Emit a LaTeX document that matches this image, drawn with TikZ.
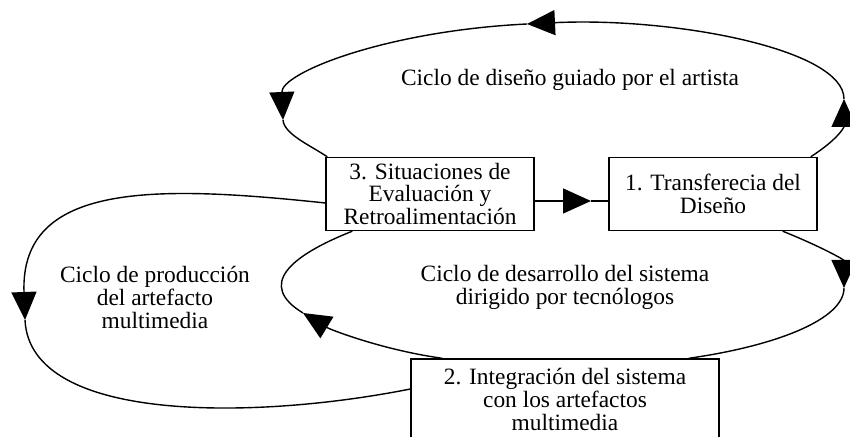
\documentclass[tikz,border=0pt]{standalone}
\usepackage{fontspec}
\setmainfont{Liberation Serif}
\usepackage{tikz}
\usetikzlibrary{arrows.meta,positioning}
\begin{document}
\begin{tikzpicture}[x=0.5pt,y=0.5pt,on grid,
           stage/.style={draw,line width=0.7pt,minimum width=104pt,minimum height=36.5pt,inner sep=0pt,align=center,font=\fontsize{11.7}{11.3}\selectfont},
           cyclelbl/.style={align=center,font=\fontsize{11.7}{11.3}\selectfont},
           loopline/.style={line width=0.7pt},
           flow/.style={loopline,-{Triangle[length=14pt,width=12.5pt]}}]
           \useasboundingbox (0,0) rectangle (850,437);
           \node[stage] (b3) at (430,243) {3. Situaciones de\\Evaluación y\\Retroalimentación};
           \node[stage] (b1) [right=141.5pt of b3] {1. Transferecia del\\Diseño};
           \node[stage, minimum width=154pt, minimum height=40.5pt] (b2) [below right=102.75pt and 67.5pt of b3] {2. Integración del sistema\\con los artefactos\\multimedia};
           \node[cyclelbl] (lblTop) at (570,357) {Ciclo de diseño guiado por el artista};
           \node[cyclelbl] (lblLeft) at (155,139.5) {Ciclo de producción\\del artefacto\\multimedia};
           \node[cyclelbl] (lblMid) at (565,149.5) {Ciclo de desarrollo del sistema\\dirigido por tecnólogos};
           \coordinate (tipA) at (591,236);
           \coordinate (arrR) at (844,338);
           \coordinate (arrT) at (527,413);
           \coordinate (arrL) at (283,317);
           \coordinate (arrMR) at (844,149);
           \coordinate (arrML) at (303,124);
           \coordinate (arrLL) at (25,117);
           \draw[flow] ([yshift=-3.5pt]b3.east) -- (tipA);
           \draw[loopline] (tipA) -- ([yshift=-3.5pt]b1.west);
           \draw[flow] ([xshift=-3.5pt]b1.north east) .. controls +(28,18) and +(0,-28) .. (arrR);
           \draw[flow] (arrR) .. controls +(0,50) and +(146,7) .. (arrT);
           \draw[flow] (arrT) .. controls +(-142,-7) and +(-2,47) .. (arrL);
           \draw[loopline] (arrL) .. controls +(1,-14) and +(-18,12) .. ([xshift=1pt]b3.north west);
           \draw[flow] ([xshift=-17.5pt]b1.south east) .. controls +(42,-17) and +(0,28) .. (arrMR);
           \draw[loopline] (arrMR) .. controls +(0,-32) and +(85,12) .. ([xshift=-15.5pt]b2.north east);
           \draw[flow] ([xshift=16pt]b2.north west) .. controls +(-58,8) and +(28,-17) .. (arrML);
           \draw[loopline] (arrML) .. controls +(-46,28) and +(-63,-25) .. ([xshift=13.5pt]b3.south west);
           \draw[flow] ([yshift=-4.5pt]b3.west) .. controls +(-170,18) and +(-5,138) .. (arrLL);
           \draw[loopline] (arrLL) .. controls +(5,-105) and +(-150,-30) .. ([yshift=5.25pt]b2.west);
        \end{tikzpicture}
\end{document}
